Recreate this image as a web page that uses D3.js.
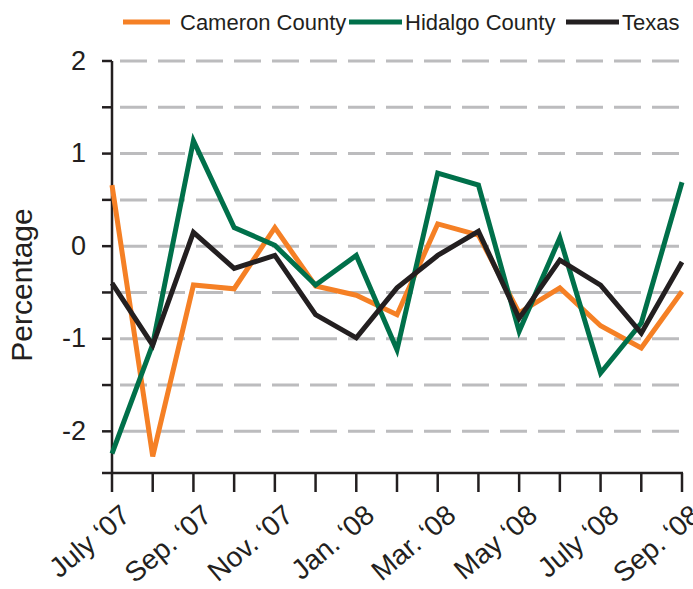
<!DOCTYPE html>
<html>
<head>
<meta charset="utf-8">
<script src="https://cdn.jsdelivr.net/npm/d3@7"></script>
<style>
  body { margin: 0; background: #fff; }
  svg text { font-family: "Liberation Sans", Arial, sans-serif; fill: #231f20; }
</style>
</head>
<body>
<svg id="chart" width="693" height="589"></svg>
<script>
// month labels, one per data point (only every other one is printed)
var months = ["July \u201807", "Aug. \u201807", "Sep. \u201807", "Oct. \u201807", "Nov. \u201807", "Dec. \u201807",
              "Jan. \u201808", "Feb. \u201808", "Mar. \u201808", "Apr. \u201808", "May \u201808", "June \u201808",
              "July \u201808", "Aug. \u201808", "Sep. \u201808"];

var cameron = [0.66, -2.27, -0.42, -0.46, 0.2, -0.43, -0.53, -0.74, 0.24, 0.12, -0.72, -0.45, -0.86, -1.1, -0.49];
var hidalgo = [-2.24, -1.06, 1.14, 0.2, 0.01, -0.42, -0.1, -1.12, 0.79, 0.66, -0.92, 0.09, -1.37, -0.83, 0.69];
var texas   = [-0.4, -1.07, 0.15, -0.24, -0.1, -0.74, -0.99, -0.45, -0.1, 0.16, -0.78, -0.15, -0.42, -0.94, -0.17];

var seriesNames = ["Cameron County", "Hidalgo County", "Texas"];
var seriesColors = ["#f58025", "#00704a", "#231f20"];

var yTicks = [-2, -1, 0, 1, 2];
var yMinor = [-2, -1.5, -1, -0.5, 0, 0.5, 1, 1.5, 2];

var svg = d3.select("#chart");

var x = d3.scalePoint().domain(months).range([112, 682]);
var y = d3.scaleLinear().domain([-2.45, 2]).range([473, 61]);

// dashed grid lines every half unit
svg.append("g")
  .selectAll("line")
  .data(yMinor)
  .join("line")
  .attr("x1", 120)
  .attr("x2", 684)
  .attr("y1", function (d) {return y(d);})
  .attr("y2", function (d) {return y(d);})
  .attr("stroke", "#bcbcbe")
  .attr("stroke-width", 3)
  .attr("stroke-dasharray", "27,11");

// y axis
var yAxis = svg.append("g").attr("transform", "translate(112,0)");
yAxis.append("line")
  .attr("x1", 0).attr("x2", 0)
  .attr("y1", y(2)).attr("y2", y(-2.45))
  .attr("stroke", "#231f20").attr("stroke-width", 2.5);
yAxis.selectAll(".minor")
  .data(yMinor)
  .join("line")
  .attr("class", "minor")
  .attr("x1", -10).attr("x2", 0)
  .attr("y1", function (d) {return y(d);})
  .attr("y2", function (d) {return y(d);})
  .attr("stroke", "#231f20").attr("stroke-width", 2.5);
yAxis.selectAll("text")
  .data(yTicks)
  .join("text")
  .attr("x", -26)
  .attr("y", function (d) {return y(d);})
  .attr("dy", "0.32em")
  .attr("text-anchor", "end")
  .attr("font-size", 27)
  .text(function (d) {return d;});

svg.append("text")
  .attr("transform", "translate(32,285) rotate(-90)")
  .attr("text-anchor", "middle")
  .attr("font-size", 30)
  .text("Percentage");

// x axis
var xAxis = svg.append("g").attr("transform", "translate(0," + y(-2.45) + ")");
xAxis.append("line")
  .attr("x1", 102).attr("x2", 683)
  .attr("stroke", "#231f20").attr("stroke-width", 2.5);
xAxis.selectAll(".tick")
  .data(months)
  .join("line")
  .attr("class", "tick")
  .attr("x1", function (d) {return x(d);})
  .attr("x2", function (d) {return x(d);})
  .attr("y1", 0).attr("y2", 19)
  .attr("stroke", "#231f20").attr("stroke-width", 2.5);
xAxis.selectAll("text")
  .data(months.filter(function (d, i) {return i % 2 === 0;}))
  .join("text")
  .attr("transform", function (d) {return "translate(" + (x(d) + 20) + ",45) rotate(-40)";})
  .attr("text-anchor", "end")
  .attr("font-size", 28)
  .text(function (d) {return d;});

// lines
var line = d3.line()
  .x(function (d, i) {return x(months[i]);})
  .y(function (d) {return y(d);});

[cameron, hidalgo, texas].forEach(function (vals, i) {
  svg.append("path")
    .datum(vals)
    .attr("d", line)
    .attr("fill", "none")
    .attr("stroke", seriesColors[i])
    .attr("stroke-width", 5)
    .attr("stroke-linejoin", "miter");
});

// legend
var legendX = [123, 349, 566];
var legendLen = [47, 53, 53];
var legend = svg.append("g");
seriesNames.forEach(function (name, i) {
  legend.append("line")
    .attr("x1", legendX[i]).attr("x2", legendX[i] + legendLen[i])
    .attr("y1", 22).attr("y2", 22)
    .attr("stroke", seriesColors[i]).attr("stroke-width", 5);
  legend.append("text")
    .attr("x", legendX[i] + legendLen[i] + (i === 0 ? 10 : 3))
    .attr("y", 22)
    .attr("dy", "0.36em")
    .attr("font-size", 22)
    .text(name);
});
</script>
</body>
</html>
